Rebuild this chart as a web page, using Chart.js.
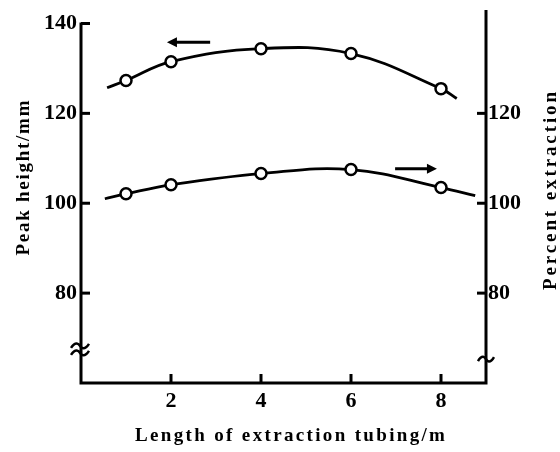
<!DOCTYPE html>
<html>
<head>
<meta charset="utf-8">
<script src="https://cdn.jsdelivr.net/npm/chart.js@4"></script>
<style>
html, body { margin: 0; padding: 0; background: #fff; }
#wrap { width: 560px; height: 452px; }
</style>
</head>
<body>
<div id="wrap"><canvas id="chart"></canvas></div>
<script>
// measured points
const lengths = [1, 2, 4, 6, 8];
const peakHeight = [127.3, 131.5, 134.4, 133.3, 125.5];
const percentExtraction = [102.1, 104.1, 106.6, 107.5, 103.5];
// drawn curves (incl. where each curve starts / ends)
const peakCurveX = [0.58, 1, 2, 4, 6, 8, 8.35];
const peakCurveY = [125.7, 127.3, 131.5, 134.4, 133.3, 125.5, 123.3];
const extrCurveX = [0.53, 1, 2, 4, 6, 8, 8.76];
const extrCurveY = [101.0, 102.1, 104.1, 106.6, 107.5, 103.5, 101.7];
// tick labels
const xTicks = [2, 4, 6, 8];
const leftTicks = [80, 100, 120, 140];
const rightTicks = [80, 100, 120];

const FONT = '"Liberation Serif", "Times New Roman", serif';

const toXY = (xs, ys) => xs.map((v, i) => ({ x: v, y: ys[i] }));

function arrow(ctx, x1, y1, x2, y2) {
    // shaft from (x1,y1) to head at (x2,y2)
    const dir = Math.sign(x2 - x1);
    ctx.beginPath();
    ctx.moveTo(x1, y1);
    ctx.lineTo(x2 - dir * 6, y2);
    ctx.stroke();
    ctx.beginPath();
    ctx.moveTo(x2, y2);
    ctx.lineTo(x2 - dir * 10, y2 - 5);
    ctx.lineTo(x2 - dir * 10, y2 + 5);
    ctx.closePath();
    ctx.fill();
}

function tilde(ctx, cx, cy, w) {
    ctx.beginPath();
    ctx.moveTo(cx - w / 2, cy + 2);
    ctx.bezierCurveTo(cx - w / 4, cy - 5, cx - 1, cy - 2, cx, cy);
    ctx.bezierCurveTo(cx + 1, cy + 2, cx + w / 4, cy + 5, cx + w / 2, cy - 2);
    ctx.stroke();
}

// spaced-out title text, stretched to the width it has in the picture
function spacedText(ctx, text, width) {
    ctx.letterSpacing = '0px';
    const w = ctx.measureText(text).width;
    const sp = Math.max(0, (width - w) / (text.length - 1));
    ctx.letterSpacing = sp.toFixed(2) + 'px';
    ctx.fillText(text, sp / 2, 0);
}

const axesPlugin = {
    id: 'axes',
    afterDraw(chart) {
        const { ctx, chartArea: a } = chart;
        const { x, yL, yR } = chart.scales;
        ctx.save();
        ctx.strokeStyle = '#000';
        ctx.fillStyle = '#000';
        ctx.lineWidth = 3;

        // axis lines
        ctx.beginPath();
        ctx.moveTo(a.left, yL.getPixelForValue(leftTicks[leftTicks.length - 1]) - 1);
        ctx.lineTo(a.left, a.bottom);
        ctx.lineTo(a.right, a.bottom);
        ctx.lineTo(a.right, a.top);
        ctx.stroke();

        // inward tick marks
        leftTicks.forEach(v => {
            const py = yL.getPixelForValue(v);
            ctx.beginPath(); ctx.moveTo(a.left, py); ctx.lineTo(a.left + 9, py); ctx.stroke();
        });
        rightTicks.forEach(v => {
            const py = yR.getPixelForValue(v);
            ctx.beginPath(); ctx.moveTo(a.right, py); ctx.lineTo(a.right - 9, py); ctx.stroke();
        });
        xTicks.forEach(v => {
            const px = x.getPixelForValue(v);
            ctx.beginPath(); ctx.moveTo(px, a.bottom); ctx.lineTo(px, a.bottom - 9); ctx.stroke();
        });

        // axis breaks
        ctx.lineWidth = 2.5;
        const lb = yL.getPixelForValue(67.6);
        tilde(ctx, a.left - 1, lb - 3, 18);
        tilde(ctx, a.left - 1, lb + 4, 18);
        tilde(ctx, a.right, yR.getPixelForValue(65.3), 16);

        // direction arrows
        ctx.lineWidth = 3;
        arrow(ctx, x.getPixelForValue(2.87), yL.getPixelForValue(135.8),
                   x.getPixelForValue(1.91), yL.getPixelForValue(135.8));
        arrow(ctx, x.getPixelForValue(6.98), yR.getPixelForValue(107.7),
                   x.getPixelForValue(7.91), yR.getPixelForValue(107.7));

        // axis titles
        ctx.font = 'bold 19px ' + FONT;
        ctx.textAlign = 'center';
        ctx.textBaseline = 'alphabetic';
        ctx.save();
        ctx.translate(290, 441);
        spacedText(ctx, 'Length of extraction tubing/m', 310);
        ctx.restore();
        ctx.save();
        ctx.translate(29, 178);
        ctx.rotate(-Math.PI / 2);
        spacedText(ctx, 'Peak height/mm', 155);
        ctx.restore();
        ctx.save();
        ctx.translate(556, 191);
        ctx.rotate(-Math.PI / 2);
        spacedText(ctx, 'Percent extraction', 198);
        ctx.restore();
        ctx.restore();
    }
};

const tickFont = { family: FONT, size: 22, weight: 'bold' };

const noPad = s => { s.paddingTop = 0; s.paddingBottom = 0; s.paddingLeft = 0; s.paddingRight = 0; };

new Chart(document.getElementById('chart'), {
    type: 'scatter',
    data: {
        datasets: [
            {
                data: toXY(lengths, peakHeight),
                yAxisID: 'yL',
                order: 0,
                pointRadius: 5.5,
                pointBorderWidth: 2.5,
                pointBackgroundColor: '#fff',
                pointBorderColor: '#000'
            },
            {
                data: toXY(lengths, percentExtraction),
                yAxisID: 'yR',
                order: 0,
                pointRadius: 5.5,
                pointBorderWidth: 2.5,
                pointBackgroundColor: '#fff',
                pointBorderColor: '#000'
            },
            {
                data: toXY(peakCurveX, peakCurveY),
                yAxisID: 'yL',
                order: 1,
                showLine: true,
                tension: 0.4,
                borderColor: '#000',
                borderWidth: 2.8,
                pointRadius: 0
            },
            {
                data: toXY(extrCurveX, extrCurveY),
                yAxisID: 'yR',
                order: 1,
                showLine: true,
                tension: 0.4,
                borderColor: '#000',
                borderWidth: 2.8,
                pointRadius: 0
            }
        ]
    },
    options: {
        responsive: true,
        maintainAspectRatio: false,
        animation: false,
        layout: { padding: { top: 10, left: 0, right: 0, bottom: 0 } },
        plugins: { legend: { display: false }, tooltip: { enabled: false } },
        scales: {
            x: {
                type: 'linear',
                position: 'bottom',
                min: 0,
                max: 9,
                grid: { display: false, drawTicks: false },
                border: { display: false },
                ticks: { font: tickFont, color: '#000', padding: 5 },
                afterBuildTicks: s => { s.ticks = xTicks.map(v => ({ value: v })); },
                afterFit: s => { noPad(s); s.height = 69; }
            },
            yL: {
                type: 'linear',
                position: 'left',
                min: 60,
                max: 143,
                grid: { display: false, drawTicks: false },
                border: { display: false },
                ticks: { font: tickFont, color: '#000', padding: 4 },
                afterBuildTicks: s => { s.ticks = leftTicks.map(v => ({ value: v })); },
                afterFit: s => { noPad(s); s.width = 81; }
            },
            yR: {
                type: 'linear',
                position: 'right',
                min: 60,
                max: 143,
                grid: { display: false, drawTicks: false },
                border: { display: false },
                ticks: { font: tickFont, color: '#000', padding: 2 },
                afterBuildTicks: s => { s.ticks = rightTicks.map(v => ({ value: v })); },
                afterFit: s => { noPad(s); s.width = 74; }
            }
        }
    },
    plugins: [axesPlugin]
});
</script>
</body>
</html>
